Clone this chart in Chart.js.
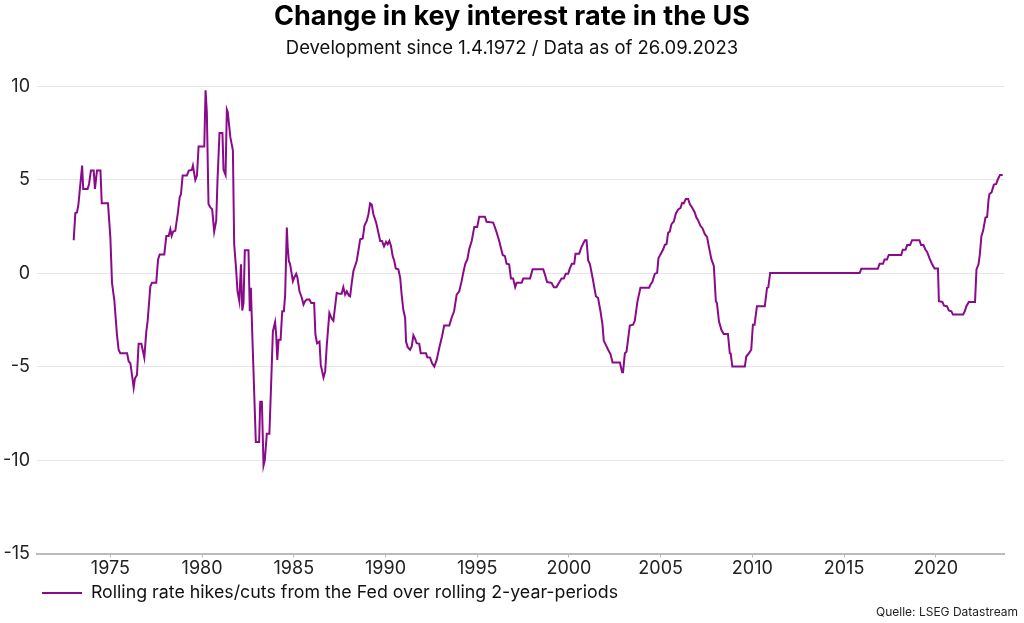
<!DOCTYPE html>
<html>
<head>
<meta charset="utf-8">
<script src="https://cdn.jsdelivr.net/npm/chart.js@4.4.0/dist/chart.umd.min.js"></script>
<style>
  html, body { margin: 0; padding: 0; background: #ffffff; }
  #wrap { position: relative; width: 1024px; height: 623px; }
  #source { position: absolute; right: 6px; bottom: 4px; font-family: Inter, "Noto Sans", sans-serif; font-size: 12px; color: #222; }
</style>
</head>
<body>
<div id="wrap">
  <canvas id="c"></canvas>
  <div id="source">Quelle: LSEG Datastream</div>
</div>
<script>
const titleText = "Change in key interest rate in the US";
const subtitleText = "Development since 1.4.1972 / Data as of 26.09.2023";
const seriesLabel = "Rolling rate hikes/cuts from the Fed over rolling 2-year-periods";
const xTickYears = [1975, 1980, 1985, 1990, 1995, 2000, 2005, 2010, 2015, 2020];
const yTickValues = [-15, -10, -5, 0, 5, 10];

const years = [
1973.00,1973.09,1973.18,1973.26,1973.46,1973.52,1973.76,1973.84,1973.94,1974.09,
1974.16,1974.27,1974.46,1974.53,1974.87,1975.00,1975.09,1975.22,1975.36,1975.45,
1975.54,1975.91,1976.00,1976.09,1976.18,1976.27,1976.34,1976.45,1976.54,1976.69,
1976.85,1976.96,1977.03,1977.18,1977.27,1977.50,1977.60,1977.69,1977.94,1978.05,
1978.18,1978.27,1978.34,1978.42,1978.54,1978.67,1978.78,1978.85,1978.94,1979.17,
1979.28,1979.44,1979.50,1979.63,1979.72,1979.81,1980.12,1980.19,1980.26,1980.35,
1980.45,1980.55,1980.66,1980.77,1980.84,1980.95,1981.11,1981.17,1981.28,1981.35,
1981.40,1981.54,1981.68,1981.75,1981.85,1981.93,1982.03,1982.12,1982.19,1982.26,
1982.33,1982.53,1982.60,1982.66,1982.75,1982.93,1983.11,1983.17,1983.26,1983.35,
1983.42,1983.53,1983.67,1983.80,1983.86,1983.98,1984.04,1984.10,1984.17,1984.28,
1984.37,1984.46,1984.53,1984.62,1984.67,1984.73,1984.80,1984.95,1985.02,1985.13,
1985.20,1985.31,1985.44,1985.53,1985.62,1985.71,1985.85,1985.95,1986.11,1986.18,
1986.27,1986.40,1986.47,1986.62,1986.71,1986.80,1986.94,1987.07,1987.16,1987.34,
1987.49,1987.61,1987.70,1987.80,1987.89,1988.00,1988.07,1988.16,1988.25,1988.34,
1988.43,1988.52,1988.62,1988.76,1988.85,1988.98,1989.07,1989.16,1989.25,1989.34,
1989.49,1989.61,1989.71,1989.81,1989.92,1990.03,1990.12,1990.21,1990.30,1990.39,
1990.48,1990.56,1990.70,1990.80,1990.88,1990.97,1991.07,1991.12,1991.21,1991.34,
1991.43,1991.52,1991.61,1991.70,1991.84,1991.92,1992.21,1992.28,1992.43,1992.54,
1992.66,1992.79,1992.93,1993.08,1993.20,1993.48,1993.60,1993.74,1993.88,1994.02,
1994.15,1994.24,1994.35,1994.46,1994.57,1994.70,1994.84,1995.00,1995.11,1995.42,
1995.51,1995.87,1995.97,1996.06,1996.20,1996.29,1996.39,1996.51,1996.60,1996.74,
1996.84,1996.96,1997.07,1997.15,1997.42,1997.51,1997.88,1998.02,1998.60,1998.69,
1998.81,1999.05,1999.18,1999.32,1999.46,1999.60,1999.72,1999.83,1999.96,2000.05,
2000.16,2000.29,2000.36,2000.56,2000.69,2000.87,2000.96,2001.05,2001.14,2001.29,
2001.47,2001.59,2001.72,2001.83,2001.90,2002.01,2002.14,2002.27,2002.38,2002.78,
2002.90,2002.95,2003.05,2003.14,2003.32,2003.50,2003.59,2003.74,2003.90,2004.37,
2004.45,2004.55,2004.68,2004.81,2004.88,2004.99,2005.14,2005.23,2005.32,2005.41,
2005.50,2005.59,2005.72,2005.83,2005.97,2006.08,2006.17,2006.26,2006.37,2006.50,
2006.59,2006.73,2006.86,2006.95,2007.04,2007.17,2007.28,2007.41,2007.53,2007.64,
2007.77,2007.90,2008.01,2008.07,2008.18,2008.31,2008.44,2008.67,2008.77,2008.82,
2008.91,2009.59,2009.67,2009.82,2009.94,2010.03,2010.12,2010.25,2010.68,2010.80,
2010.87,2010.97,2015.85,2015.94,2016.84,2016.94,2017.12,2017.21,2017.34,2017.44,
2018.12,2018.20,2018.35,2018.44,2018.60,2018.71,2019.11,2019.20,2019.33,2019.44,
2019.53,2019.66,2019.79,2019.93,2020.12,2020.17,2020.36,2020.45,2020.61,2020.71,
2020.85,2020.94,2021.49,2021.58,2021.67,2021.80,2022.14,2022.22,2022.33,2022.40,
2022.49,2022.58,2022.71,2022.80,2022.88,2022.93,2023.04,2023.17,2023.30,2023.37,
2023.50,2023.65
];

const values = [
1.76,3.21,3.24,3.69,5.75,4.50,4.50,4.78,5.48,5.48,
4.50,5.48,5.48,3.73,3.73,1.90,-0.52,-1.50,-3.30,-4.10,
-4.28,-4.28,-4.73,-4.82,-5.45,-6.13,-5.63,-5.45,-3.78,-3.78,
-4.52,-3.12,-2.58,-0.70,-0.52,-0.52,0.73,1.00,1.00,1.99,
1.99,2.35,1.99,2.22,2.26,3.15,4.05,4.23,5.22,5.22,
5.48,5.52,5.75,4.98,5.22,6.77,6.77,9.78,8.60,3.69,
3.51,3.42,2.22,2.80,4.95,7.49,7.49,5.52,5.25,8.75,
8.62,7.27,6.56,1.54,0.29,-0.97,-1.50,0.47,-2.00,-1.60,
1.22,1.22,-2.04,-0.79,-3.66,-9.03,-9.03,-6.88,-6.88,-10.29,
-10.00,-8.59,-8.59,-4.91,-3.12,-2.62,-3.30,-4.64,-3.57,-3.57,
-2.04,-2.04,-1.15,2.44,1.36,0.65,0.47,-0.43,-0.25,-0.04,
-0.25,-0.97,-1.33,-1.68,-1.50,-1.41,-1.41,-1.60,-1.60,-3.30,
-3.75,-3.66,-4.91,-5.59,-5.27,-3.84,-2.13,-2.44,-2.55,-1.06,
-1.11,-1.11,-0.75,-1.15,-0.97,-1.20,-1.24,-0.52,0.11,0.38,
0.65,1.18,1.81,1.85,2.53,2.80,3.15,3.73,3.66,3.15,
2.70,2.17,1.72,1.72,1.43,1.67,1.54,1.72,1.45,0.91,
0.65,0.25,0.20,-0.25,-1.15,-1.95,-2.40,-3.66,-3.96,-4.10,
-3.92,-3.33,-3.51,-3.75,-3.78,-4.28,-4.28,-4.50,-4.52,-4.82,
-5.00,-4.64,-4.01,-3.39,-2.80,-2.80,-2.40,-2.04,-1.15,-0.97,
-0.43,0.02,0.50,0.73,1.30,1.72,2.47,2.47,3.01,3.01,
2.74,2.70,2.44,2.17,1.72,1.36,0.97,0.91,0.50,0.47,
-0.29,-0.29,-0.75,-0.52,-0.52,-0.29,-0.29,0.20,0.20,-0.07,
-0.48,-0.52,-0.75,-0.75,-0.52,-0.29,-0.29,-0.04,-0.04,0.25,
0.50,0.50,1.04,1.04,1.40,1.76,1.76,0.68,0.50,-0.25,
-1.24,-1.33,-2.04,-2.76,-3.62,-3.84,-4.10,-4.34,-4.78,-4.78,
-5.30,-5.30,-4.28,-4.20,-2.80,-2.76,-2.55,-1.50,-0.79,-0.79,
-0.61,-0.47,-0.04,0.02,0.79,1.00,1.27,1.51,1.54,2.17,
2.22,2.62,2.76,3.19,3.42,3.48,3.75,3.73,3.96,3.96,
3.69,3.48,3.24,2.97,2.83,2.53,2.40,2.08,1.94,1.36,
0.73,0.38,-1.50,-1.60,-2.58,-3.03,-3.26,-3.26,-4.28,-4.30,
-5.00,-5.00,-4.46,-4.28,-4.10,-2.76,-2.76,-1.77,-1.77,-0.79,
-0.76,0.00,0.00,0.23,0.23,0.50,0.50,0.73,0.73,0.97,
0.97,1.25,1.25,1.50,1.50,1.76,1.76,1.50,1.50,1.25,
1.13,0.79,0.50,0.25,0.25,-1.50,-1.54,-1.74,-1.77,-2.00,
-2.04,-2.22,-2.22,-2.04,-1.77,-1.54,-1.54,0.20,0.47,0.97,
1.99,2.26,2.97,3.00,3.96,4.23,4.32,4.73,4.77,4.98,
5.25,5.25
];

const points = years.map((x, i) => ({ x: x, y: values[i] }));
const FONT = "Inter, 'Noto Sans', sans-serif";
const LINE_COLOR = "#8a0a8a";

new Chart(document.getElementById("c"), {
  type: "line",
  data: {
    datasets: [{
      label: seriesLabel,
      data: points,
      xAxisID: "x",
      yAxisID: "y",
      borderColor: LINE_COLOR,
      backgroundColor: LINE_COLOR,
      borderWidth: 2,
      pointRadius: 0,
      pointHoverRadius: 0,
      tension: 0,
      fill: false
    }]
  },
  options: {
    responsive: true,
    maintainAspectRatio: false,
    animation: false,
    layout: { padding: { left: 0, right: 0, top: 0, bottom: 11 } },
    plugins: {
      title: {
        display: true,
        text: titleText,
        color: "#000",
        font: { family: FONT, size: 27, weight: "bold" },
        padding: { top: 1, bottom: 2 }
      },
      subtitle: {
        display: true,
        text: subtitleText,
        color: "#111",
        font: { family: FONT, size: 18.5 },
        padding: { top: 1.5, bottom: 27 }
      },
      legend: {
        display: true,
        position: "bottom",
        align: "start",
        fullSize: false,
        labels: {
          usePointStyle: true,
          pointStyle: "line",
          pointStyleWidth: 40,
          color: "#111",
          font: { family: FONT, size: 17.8 },
          padding: 5
        }
      },
      tooltip: { enabled: false }
    },
    scales: {
      x: {
        type: "linear",
        min: 1971.0,
        max: 2023.72,
        afterBuildTicks: (scale) => { scale.ticks = xTickYears.map(v => ({ value: v })); },
        ticks: {
          color: "#222",
          font: { family: FONT, size: 18 },
          maxRotation: 0,
          autoSkip: false,
          padding: 0,
          callback: (v) => String(v)
        },
        grid: { display: true, drawOnChartArea: false, drawTicks: true, tickLength: 4, color: "#bbbbbb" },
        border: { display: true, color: "#bbbbbb", width: 2 }
      },
      y: {
        type: "linear",
        position: "left",
        min: -15,
        max: 10,
        afterBuildTicks: (scale) => { scale.ticks = yTickValues.map(v => ({ value: v })); },
        afterFit: (scale) => { scale.width = 37; },
        ticks: {
          color: "#222",
          font: { family: FONT, size: 18 },
          padding: 7,
          callback: (v) => String(v)
        },
        grid: { color: "#e6e6e6", lineWidth: 1, drawTicks: false },
        border: { display: false }
      },
      yRightSpace: {
        type: "linear",
        position: "right",
        min: 0,
        max: 1,
        afterFit: (scale) => { scale.width = 20; },
        ticks: { display: false },
        grid: { display: false, drawTicks: false },
        border: { display: false }
      }
    }
  }
});
</script>
</body>
</html>
